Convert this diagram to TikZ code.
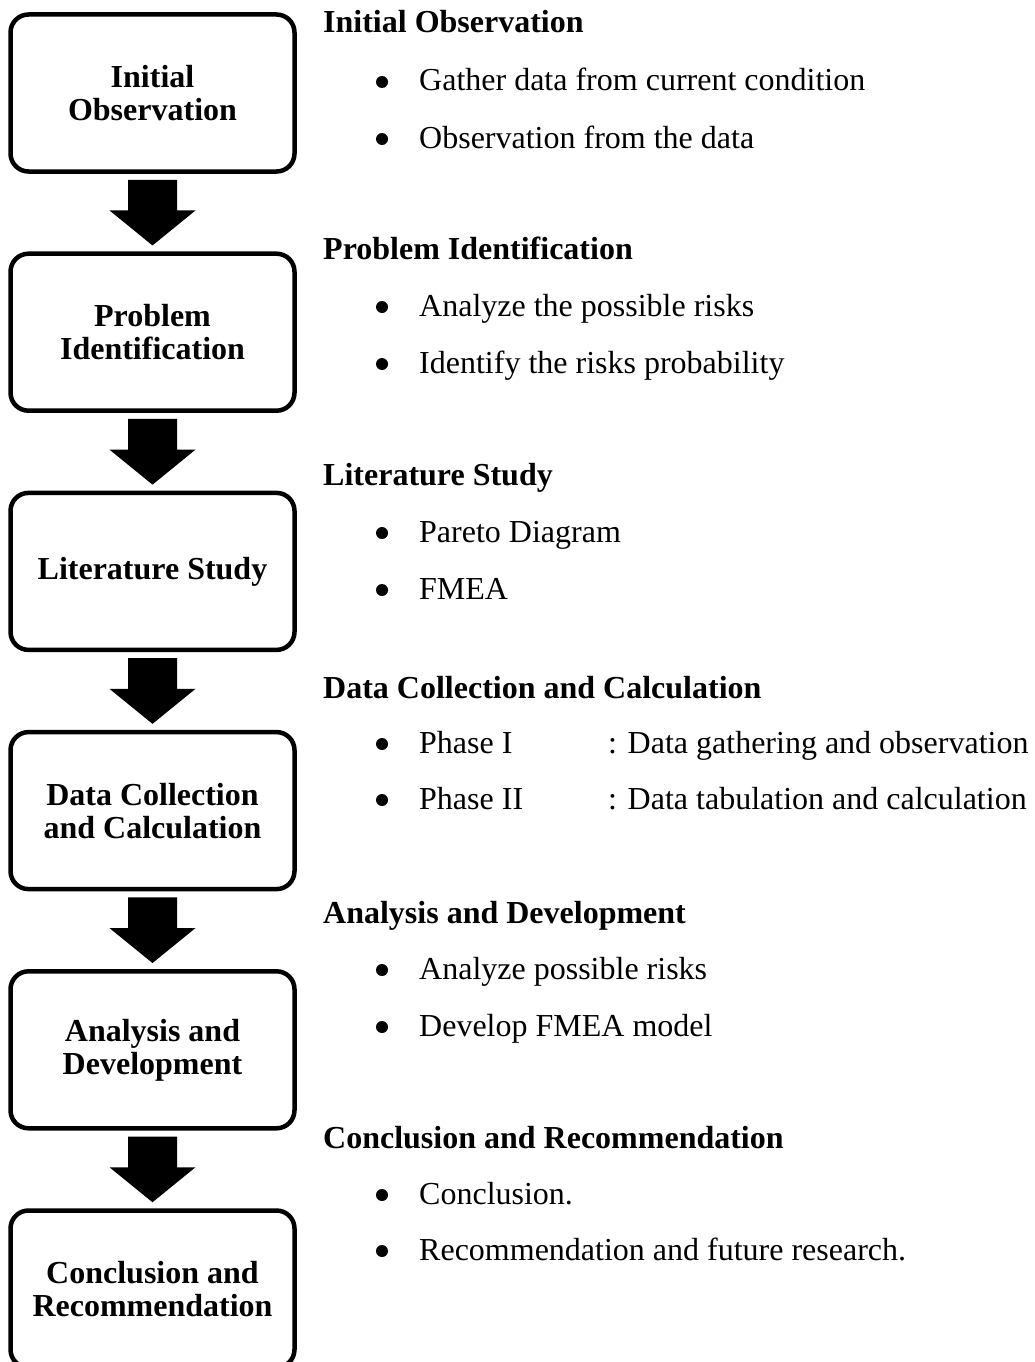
\documentclass[tikz,border=0pt]{standalone}
\usepackage{fontspec}
\setmainfont{Liberation Serif}
\usetikzlibrary{calc}

\tikzset{
  stage/.style={draw, line width=4.5pt, rounded corners=18pt,
    minimum width=284pt, minimum height=157pt, inner sep=0pt,
    align=center, font=\bfseries\fontsize{32}{33}\selectfont},
  headline/.style={anchor=base west, inner sep=0pt,
    font=\bfseries\fontsize{32}{38}\selectfont},
  listitem/.style={anchor=base west, inner sep=0pt,
    font=\fontsize{32}{38}\selectfont},
}

% thick block arrow from the bottom of one stage to the top of the next
\newcommand\flowarrow[2]{%
  \fill ($(#1.south)+(-24.5,6)$) -- ($(#1.south)+(24.5,6)$)
     -- ($(#2.north)+(24.5,-41)$) -- ($(#2.north)+(43,-41)$)
     -- ($(#2.north)+(0,-6)$)
     -- ($(#2.north)+(-43,-41)$) -- ($(#2.north)+(-24.5,-41)$) -- cycle;}

% round bullet in front of a list item
\newcommand\itemdot[1]{\fill ($(#1.base west)+(-37,-9)$) circle (6pt);}

\begin{document}
\begin{tikzpicture}[x=1pt,y=-1pt]
  \useasboundingbox[fill=white] (0,0) rectangle (1034,1362);

  % stages of the flow
  \node[stage] (s1) at (152.5,93)    {Initial\\Observation};
  \node[stage] (s2) at (152.5,332.2) {Problem\\Identification};
  \node[stage] (s3) at (152.5,571.4) {Literature Study};
  \node[stage] (s4) at (152.5,810.6) {Data Collection\\and Calculation};
  \node[stage] (s5) at (152.5,1049.8){Analysis and\\Development};
  \node[stage] (s6) at (152.5,1289)  {Conclusion and\\Recommendation};

  \flowarrow{s1}{s2}
  \flowarrow{s2}{s3}
  \flowarrow{s3}{s4}
  \flowarrow{s4}{s5}
  \flowarrow{s5}{s6}

  % descriptions of each stage
  \node[headline] (h1) at (323,33) {Initial Observation};
  \node[listitem] (h1a) at (419,91)  {Gather data from current condition};
  \node[listitem] (h1b) at (419,148) {Observation from the data};

  \node[headline] (h2) at (323,259) {Problem Identification};
  \node[listitem] (h2a) at (419,316) {Analyze the possible risks};
  \node[listitem] (h2b) at (419,373) {Identify the risks probability};

  \node[headline] (h3) at (323,485) {Literature Study};
  \node[listitem] (h3a) at (419,542) {Pareto Diagram};
  \node[listitem] (h3b) at (419,599) {FMEA};

  \node[headline] (h4) at (323,698) {Data Collection and Calculation};
  \node[listitem] (h4a) at (419,753) {\makebox[189pt][l]{Phase I}: Data gathering and observation};
  \node[listitem] (h4b) at (419,809) {\makebox[189pt][l]{Phase II}: Data tabulation and calculation};

  \node[headline] (h5) at (323,923) {Analysis and Development};
  \node[listitem] (h5a) at (419,979)  {Analyze possible risks};
  \node[listitem] (h5b) at (419,1036) {Develop FMEA model};

  \node[headline] (h6) at (323,1148) {Conclusion and Recommendation};
  \node[listitem] (h6a) at (419,1204) {Conclusion.};
  \node[listitem] (h6b) at (419,1260) {Recommendation and future research.};

  \foreach \n in {h1a,h1b,h2a,h2b,h3a,h3b,h4a,h4b,h5a,h5b,h6a,h6b}
    {\itemdot{\n}}
\end{tikzpicture}
\end{document}
